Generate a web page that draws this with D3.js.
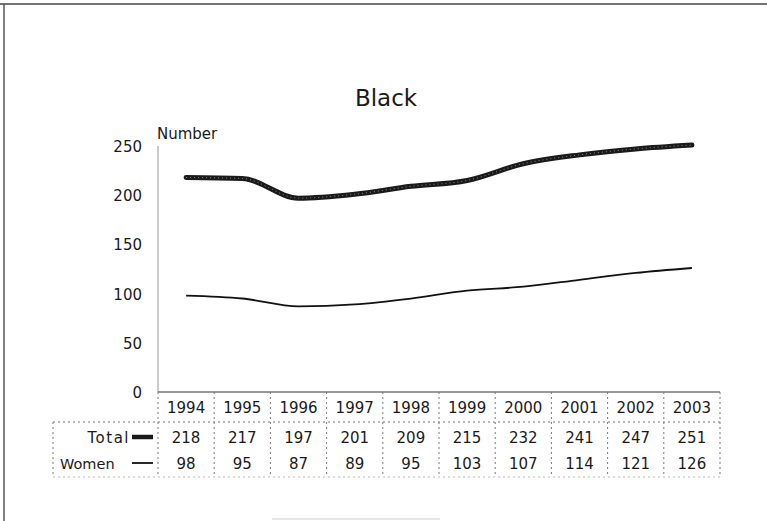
<!DOCTYPE html>
<html lang="en">
<head>
    <meta charset="UTF-8">
    <title>Black</title>
    <script src="https://d3js.org/d3.v7.min.js"></script>
    <style>
        body { margin: 0; background: #fff; }
        text { font-family: "DejaVu Sans", sans-serif; fill: #1a1a1a; }
        .grid { stroke: #777; stroke-width: 1; stroke-dasharray: 2,3; fill: none; }
    </style>
</head>
<body>
    <script>
        const years = ["1994", "1995", "1996", "1997", "1998", "1999", "2000", "2001", "2002", "2003"];
        const total = [218, 217, 197, 201, 209, 215, 232, 241, 247, 251];
        const women = [98, 95, 87, 89, 95, 103, 107, 114, 121, 126];
        const yTicks = [0, 50, 100, 150, 200, 250];

        const width = 767, height = 521;
        const plot = { left: 158, right: 720, top: 146, bottom: 392 };

        const svg = d3.select("body").append("svg")
            .attr("width", width)
            .attr("height", height);

        // frame
        svg.append("line").attr("x1", 0).attr("x2", 767).attr("y1", 4).attr("y2", 4)
            .attr("stroke", "#444").attr("stroke-width", 1.5);
        svg.append("line").attr("x1", 4).attr("x2", 4).attr("y1", 4).attr("y2", 521)
            .attr("stroke", "#555").attr("stroke-width", 1.5);
        svg.append("line").attr("x1", 272).attr("x2", 440).attr("y1", 519).attr("y2", 519)
            .attr("stroke", "#ccc").attr("stroke-width", 1);

        svg.append("text")
            .attr("x", 386).attr("y", 106)
            .attr("text-anchor", "middle")
            .style("font-size", "23px")
            .text("Black");

        const x = d3.scaleBand().domain(years).range([plot.left, plot.right]);
        const y = d3.scaleLinear().domain([0, 250]).range([plot.bottom, plot.top]);
        const cx = d => x(d) + x.bandwidth() / 2;

        // y axis
        svg.append("line").attr("x1", plot.left).attr("x2", plot.left)
            .attr("y1", plot.top).attr("y2", plot.bottom)
            .attr("stroke", "#999").attr("stroke-width", 1);
        svg.selectAll(".ytick").data(yTicks).enter().append("text")
            .attr("x", 142).attr("y", d => y(d) + 6)
            .attr("text-anchor", "end")
            .style("font-size", "15px")
            .text(d => d);
        svg.append("text").attr("x", 157).attr("y", 139)
            .style("font-size", "15px").text("Number");

        // x axis line
        svg.append("line").attr("x1", plot.left).attr("x2", plot.right)
            .attr("y1", plot.bottom).attr("y2", plot.bottom)
            .attr("stroke", "#333").attr("stroke-width", 1.2);

        // lines
        const line = vals => d3.line()
            .x((d, i) => cx(years[i]))
            .y(d => y(d))
            .curve(d3.curveMonotoneX)(vals);

        svg.append("path").attr("d", line(total))
            .attr("fill", "none").attr("stroke", "#1a1a1a")
            .attr("stroke-width", 5).attr("stroke-linecap", "round");
        svg.append("path").attr("d", line(total))
            .attr("fill", "none").attr("stroke", "#888")
            .attr("stroke-width", 1).attr("stroke-dasharray", "1,3");
        svg.append("path").attr("d", line(women))
            .attr("fill", "none").attr("stroke", "#111")
            .attr("stroke-width", 1.8);

        // data table
        const rowYear = 407, rowTotal = 437, rowWomen = 463;
        const tTop = 422, tBottom = 477, labLeft = 53;

        svg.append("line").attr("class", "grid")
            .attr("x1", labLeft).attr("x2", plot.right).attr("y1", tTop).attr("y2", tTop);
        svg.append("line").attr("class", "grid")
            .attr("x1", labLeft).attr("x2", plot.right).attr("y1", tBottom).attr("y2", tBottom)
            .style("stroke", "#bbb");
        svg.append("line").attr("class", "grid")
            .attr("x1", labLeft).attr("x2", labLeft).attr("y1", tTop).attr("y2", tBottom);

        const bounds = years.map(d => x(d)).concat([plot.right]);
        svg.selectAll(".vgrid").data(bounds).enter().append("line")
            .attr("class", "grid")
            .attr("x1", d => d).attr("x2", d => d)
            .attr("y1", plot.bottom).attr("y2", tBottom);

        svg.selectAll(".yr").data(years).enter().append("text")
            .attr("x", d => cx(d)).attr("y", rowYear + 6)
            .attr("text-anchor", "middle").style("font-size", "15px")
            .text(d => d);
        svg.selectAll(".tv").data(total).enter().append("text")
            .attr("x", (d, i) => cx(years[i])).attr("y", rowTotal + 6)
            .attr("text-anchor", "middle").style("font-size", "15px")
            .text(d => d);
        svg.selectAll(".wv").data(women).enter().append("text")
            .attr("x", (d, i) => cx(years[i])).attr("y", rowWomen + 6)
            .attr("text-anchor", "middle").style("font-size", "15px")
            .text(d => d);

        svg.append("text").attr("x", 130).attr("y", rowTotal + 6)
            .attr("text-anchor", "end").style("font-size", "15px")
            .style("letter-spacing", "1.5px").text("Total");
        svg.append("text").attr("x", 60).attr("y", rowWomen + 6)
            .style("font-size", "14.5px").text("Women");
        svg.append("line").attr("x1", 132).attr("x2", 153)
            .attr("y1", rowTotal).attr("y2", rowTotal)
            .attr("stroke", "#1a1a1a").attr("stroke-width", 4.5);
        svg.append("line").attr("x1", 132).attr("x2", 153)
            .attr("y1", rowWomen).attr("y2", rowWomen)
            .attr("stroke", "#111").attr("stroke-width", 1.8);
    </script>
</body>
</html>
